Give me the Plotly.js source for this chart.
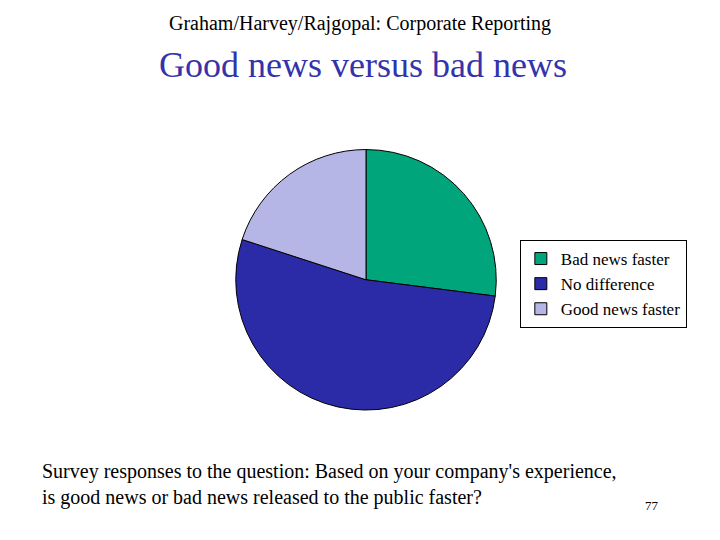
<!DOCTYPE html>
<html>
<head>
<meta charset="utf-8">
<script src="https://cdn.plot.ly/plotly-3.0.1.min.js"></script>
<style>
  html, body { margin: 0; padding: 0; background: #fff; }
  #plot { width: 720px; height: 540px; }
</style>
</head>
<body>
<div id="plot"></div>
<script>
// Survey answers (percent of respondents)
var answers = ["Bad news faster", "No difference", "Good news faster"];
var shares = [27, 53, 20];
var sliceColors = ["#00a57c", "#2b2ba8", "#b6b6e6"];

var serif = "Liberation Serif, Times New Roman, serif";

var trace1 = {
  type: "pie",
  labels: answers,
  values: shares,
  sort: false,
  direction: "clockwise",
  rotation: 0,
  textinfo: "none",
  hoverinfo: "label+percent",
  marker: {colors: sliceColors, line: {color: "#000000", width: 1}},
  domain: {x: [0.3264, 0.6903], y: [0.2407, 0.7231]}
};

var layout = {
  width: 720,
  height: 540,
  margin: {l: 0, r: 0, t: 0, b: 0},
  paper_bgcolor: "#ffffff",
  font: {family: serif, color: "#000000"},
  showlegend: true,
  legend: {
    x: 0.722, y: 1 - 240 / 540, xanchor: "left", yanchor: "top",
    bordercolor: "#000000", borderwidth: 1,
    font: {family: serif, size: 17, color: "#000000"},
    itemwidth: 30,
    tracegroupgap: 0
  },
  annotations: [
    {text: "Graham/Harvey/Rajgopal: Corporate Reporting", xref: "paper", yref: "paper",
     x: 360 / 720, y: 1 - 23 / 540, xanchor: "center", yanchor: "middle", showarrow: false,
     font: {family: serif, size: 20, color: "#000000"}},
    {text: "Good news versus bad news", xref: "paper", yref: "paper",
     x: 363 / 720, y: 1 - 65 / 540, xanchor: "center", yanchor: "middle", showarrow: false,
     font: {family: serif, size: 36, color: "#3333aa"}},
    {text: "Survey responses to the question: Based on your company's experience,<br>is good news or bad news released to the public faster?",
     xref: "paper", yref: "paper", x: 40 / 720, y: 1 - 484 / 540,
     xanchor: "left", yanchor: "middle", align: "left", showarrow: false,
     font: {family: serif, size: 20, color: "#000000"}},
    {text: "77", xref: "paper", yref: "paper", x: 652 / 720, y: 1 - 505 / 540,
     xanchor: "center", yanchor: "middle", showarrow: false,
     font: {family: serif, size: 13, color: "#000000"}}
  ]
};

Plotly.newPlot("plot", [trace1], layout, {staticPlot: true, displayModeBar: false});
</script>
</body>
</html>
